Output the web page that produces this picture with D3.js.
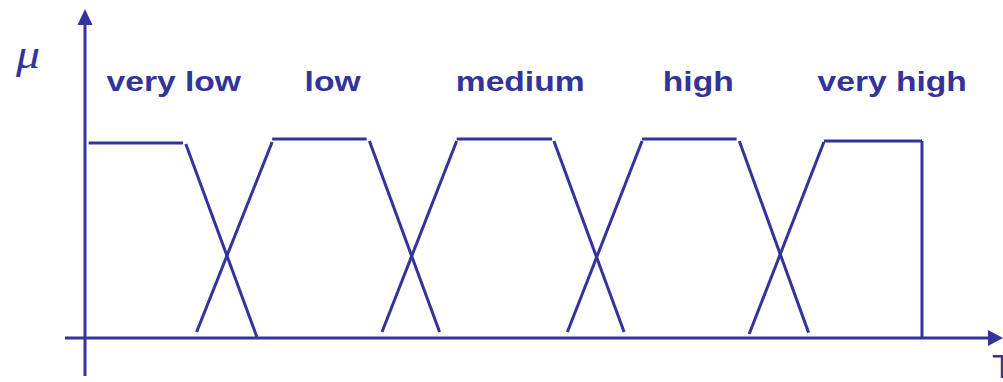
<!DOCTYPE html>
<html>
<head>
<meta charset="utf-8">
<script src="https://cdn.jsdelivr.net/npm/d3@7"></script>
<style>
  html, body { margin: 0; padding: 0; background: #fff; }
  svg { display: block; }
</style>
</head>
<body>
<svg id="chart" width="1003" height="382"></svg>
<script>
// fuzzy terms and their (hand-drawn) membership shapes, x in T units, y in mu
const terms = ['very low', 'low', 'medium', 'high', 'very high'];
const labelX = [2.4, 24.4, 41.2, 64.2, 81.4];

const plateauStart = [0.4, 20.8, 41.3, 61.9, 82.1];
const plateauEnd = [10.9, 31.3, 51.9, 72.4, 93.0];
const plateauMu = [0.98, 1.0, 1.0, 1.0, 0.99];

// falling edges (right side of terms 0..3)
const fallX0 = [11.2, 31.6, 52.1, 72.7];
const fallMu0 = [0.975, 0.99, 0.99, 0.99];
const fallX1 = [19.1, 39.4, 59.9, 80.4];
const fallMu1 = [0.005, 0.03, 0.03, 0.027];

// rising edges (left side of terms 1..4)
const riseX0 = [12.4, 33.0, 53.6, 73.8];
const riseMu0 = [0.03, 0.03, 0.03, 0.02];
const riseX1 = [20.8, 41.3, 61.9, 82.1];
const riseMu1 = [0.985, 0.99, 0.99, 0.985];

const color = '#333399';
const svg = d3.select('#chart');

const x = d3.scaleLinear().domain([0, 100]).range([85, 985]);
const y = d3.scaleLinear().domain([0, 1]).range([338, 139]);

// axes with arrowheads
const axisG = svg.append('g').attr('stroke', color).attr('stroke-width', 3);
axisG.append('line').attr('x1', 65).attr('x2', 990).attr('y1', y(0)).attr('y2', y(0));
axisG.append('line').attr('x1', x(0)).attr('x2', x(0)).attr('y1', 376).attr('y2', 24);
svg.append('path')
  .attr('d', `M988,${y(0) - 8}L1003,${y(0)}L988,${y(0) + 8}Z`)
  .attr('fill', color);
svg.append('path')
  .attr('d', `M${x(0) - 7.5},25L${x(0)},9L${x(0) + 7.5},25Z`)
  .attr('fill', color);

// membership segments
const segs = [];
terms.forEach((t, i) => {
  segs.push([plateauStart[i], plateauMu[i], plateauEnd[i], plateauMu[i]]);
});
fallX0.forEach((v, i) => segs.push([v, fallMu0[i], fallX1[i], fallMu1[i]]));
riseX0.forEach((v, i) => segs.push([v, riseMu0[i], riseX1[i], riseMu1[i]]));
// right edge of "very high"
segs.push([plateauEnd[4], plateauMu[4], plateauEnd[4], 0]);

svg.append('g').selectAll('line').data(segs).join('line')
  .attr('x1', d => x(d[0]))
  .attr('y1', d => y(d[1]))
  .attr('x2', d => x(d[2]))
  .attr('y2', d => y(d[3]))
  .attr('stroke', color)
  .attr('stroke-width', 3)
  .attr('stroke-linecap', 'butt');

// term labels (slightly stretched horizontally like the original)
svg.append('g').selectAll('text').data(terms).join('text')
  .attr('transform', (d, i) => `translate(${x(labelX[i])},91) scale(1.2,1)`)
  .attr('font-family', '"Liberation Sans", Arial, sans-serif')
  .attr('font-weight', 'bold')
  .attr('font-size', 28)
  .attr('fill', color)
  .text(d => d);

// axis titles
svg.append('text')
  .attr('transform', 'translate(16,68) scale(1.2,1)')
  .attr('font-family', '"Liberation Serif", "Times New Roman", serif')
  .attr('font-style', 'italic')
  .attr('font-size', 40)
  .attr('fill', color)
  .text('μ');

svg.append('text')
  .attr('x', 992)
  .attr('y', 354 + 24)
  .attr('font-family', '"Liberation Sans", Arial, sans-serif')
  .attr('font-size', 34)
  .attr('fill', color)
  .text('T');
</script>
</body>
</html>
